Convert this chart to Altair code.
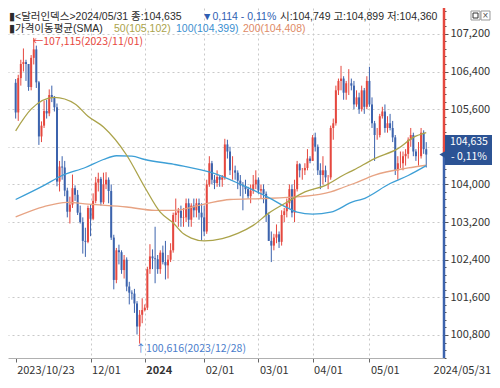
import altair as alt
import pandas as pd

# ---------------- data ----------------
dates = pd.bdate_range("2023-10-23", "2024-05-31").strftime("%Y/%m/%d").tolist()

opens = [
    106.16, 105.53, 106.26, 106.56, 106.60, 106.56, 106.07,
    106.69, 106.87, 106.17, 105.02, 105.25, 105.56, 105.51, 105.90, 105.86, 105.64, 104.06,
    104.38, 104.36, 103.87, 103.42, 103.57, 103.92, 103.78, 103.40, 103.20, 102.80, 102.78,
    103.50, 103.27, 103.65, 104.04, 104.12, 103.62, 104.00, 104.10, 103.86, 102.87, 101.97,
    102.60, 102.56, 102.18, 102.40, 101.83, 101.70, 101.68, 101.47, 100.98, 101.23,
    101.33, 101.38, 102.20, 102.47, 102.43, 102.41, 102.20, 102.55, 102.35, 102.28, 102.40,
    102.60, 103.35, 103.40, 103.44, 103.29, 103.30, 103.60, 103.25, 103.55, 103.45, 103.60, 103.40,
    103.30, 103.00, 104.00, 104.45, 104.10, 104.03, 104.16, 104.10, 104.15, 104.85, 104.70,
    104.30, 104.30, 104.25, 104.08, 103.98, 103.96, 103.90, 103.75, 103.87, 104.00,
    104.10, 103.87, 103.90, 103.80, 103.35, 102.80, 102.70, 102.87, 102.94, 102.78, 103.35,
    103.43, 103.60, 103.90, 103.40, 103.90, 104.43, 104.30, 104.30, 104.35, 104.55,
    104.50, 105.00, 104.80, 104.30, 104.20, 104.30, 104.15, 104.15, 105.20, 105.30, 106.00,
    106.20, 106.25, 105.95, 106.15, 106.15, 106.10, 105.70, 105.85, 105.60, 106.00, 105.65,
    106.20, 105.70, 105.30, 105.05, 105.05, 105.45, 105.55, 105.20, 105.30, 105.20, 105.00,
    104.30, 104.45, 104.45, 104.60, 104.65, 104.95, 105.05, 104.70, 104.60, 104.60, 105.10, 104.749,
]
highs = [
    106.24, 106.33, 106.65, 106.89, 106.65, 106.50, 106.75,
    107.115, 106.95, 106.20, 105.34, 105.78, 105.80, 106.02, 106.10, 105.88, 105.72, 104.50,
    104.60, 104.50, 103.93, 103.74, 104.21, 103.98, 103.88, 103.55, 103.30, 103.08, 103.55,
    103.58, 103.81, 104.16, 104.25, 104.16, 104.25, 104.26, 104.15, 104.00, 102.93, 102.65,
    102.72, 102.60, 102.50, 102.45, 101.93, 101.75, 101.78, 101.52, 101.33, 101.58,
    101.45, 102.25, 102.73, 102.62, 103.10, 102.50, 102.60, 102.70, 102.80, 102.50, 102.75,
    103.40, 103.70, 103.50, 103.55, 103.50, 103.70, 103.70, 103.60, 103.70, 103.70, 103.70, 103.60,
    103.55, 104.10, 104.60, 104.50, 104.20, 104.30, 104.20, 104.20, 104.97, 104.95, 104.80,
    104.60, 104.40, 104.30, 104.20, 104.05, 104.10, 103.95, 104.00, 104.20, 104.30,
    104.15, 104.00, 104.00, 103.85, 103.40, 103.00, 102.95, 103.15, 103.00, 103.45, 103.50,
    103.70, 104.00, 104.00, 104.10, 104.50, 104.45, 104.35, 104.45, 104.75, 104.60,
    105.05, 105.10, 104.85, 104.45, 104.60, 104.40, 104.20, 105.25, 105.40, 106.10, 106.25,
    106.52, 106.30, 106.20, 106.45, 106.25, 106.20, 106.00, 105.95, 106.10, 106.05, 106.30,
    106.50, 105.85, 105.35, 105.20, 105.50, 105.65, 105.70, 105.45, 105.50, 105.35, 105.05,
    104.60, 104.70, 104.70, 104.75, 105.00, 105.20, 105.10, 104.75, 104.90, 105.20, 105.15, 104.899,
]
lows = [
    105.40, 105.35, 106.10, 106.40, 106.20, 105.99, 106.00,
    106.55, 106.05, 104.84, 104.90, 105.20, 105.40, 105.45, 105.75, 105.55, 103.96, 103.85,
    104.10, 103.75, 103.30, 103.17, 103.50, 103.65, 103.35, 103.17, 102.53, 102.46, 102.75,
    102.90, 103.24, 103.60, 103.85, 103.55, 103.58, 103.90, 103.60, 102.82, 101.77, 101.90,
    102.30, 102.10, 102.00, 101.73, 101.45, 101.55, 101.27, 100.81, 100.616, 101.05,
    101.30, 101.33, 102.10, 102.20, 101.90, 102.10, 102.10, 102.30, 101.98, 102.00, 102.35,
    102.55, 103.20, 103.10, 103.10, 103.10, 103.20, 103.10, 103.10, 103.30, 103.30, 103.25, 102.80,
    102.90, 102.95, 103.95, 104.00, 103.90, 103.95, 103.95, 103.95, 104.10, 104.55, 104.20,
    104.10, 104.10, 103.90, 103.75, 103.45, 103.80, 103.70, 103.60, 103.80, 103.90,
    103.80, 103.70, 103.60, 103.20, 102.80, 102.35, 102.60, 102.75, 102.65, 102.70, 103.20,
    103.30, 103.50, 103.30, 103.20, 103.85, 104.15, 104.10, 104.20, 104.30, 104.45,
    104.50, 104.70, 104.20, 103.90, 104.00, 104.05, 103.90, 104.10, 104.95, 105.25, 105.90,
    106.00, 105.80, 105.80, 105.90, 106.00, 105.60, 105.65, 105.50, 105.55, 105.50, 105.60,
    105.65, 105.20, 104.50, 104.95, 105.00, 105.40, 105.10, 105.10, 105.15, 104.90, 104.20,
    104.10, 104.35, 104.30, 104.40, 104.55, 104.80, 104.60, 104.50, 104.40, 104.55, 104.65, 104.360,
]
closes = [
    105.53, 106.26, 106.56, 106.60, 106.56, 106.07, 106.69,
    106.87, 106.17, 105.02, 105.25, 105.56, 105.51, 105.90, 105.86, 105.64, 104.06, 104.38,
    104.36, 103.87, 103.42, 103.57, 103.92, 103.78, 103.40, 103.20, 102.80, 102.78, 103.50,
    103.27, 103.65, 104.04, 104.12, 103.62, 104.00, 104.10, 103.86, 102.87, 101.97, 102.60,
    102.56, 102.18, 102.40, 101.83, 101.70, 101.68, 101.47, 100.98, 101.23, 101.33,
    101.38, 102.20, 102.47, 102.43, 102.41, 102.20, 102.55, 102.35, 102.28, 102.40, 102.60,
    103.35, 103.40, 103.44, 103.29, 103.30, 103.60, 103.25, 103.55, 103.45, 103.60, 103.40, 103.30,
    103.00, 104.00, 104.45, 104.10, 104.03, 104.16, 104.10, 104.15, 104.85, 104.70, 104.30,
    104.30, 104.25, 104.08, 103.98, 103.96, 103.90, 103.75, 103.87, 104.00, 104.10,
    103.87, 103.90, 103.80, 103.35, 102.80, 102.70, 102.87, 102.94, 102.78, 103.35, 103.43,
    103.60, 103.90, 103.40, 103.90, 104.43, 104.30, 104.30, 104.35, 104.55, 104.50,
    105.00, 104.80, 104.30, 104.20, 104.30, 104.15, 104.15, 105.20, 105.30, 106.00, 106.20,
    106.25, 105.95, 106.15, 106.15, 106.10, 105.70, 105.85, 105.60, 106.00, 105.65, 106.20,
    105.70, 105.30, 105.05, 105.05, 105.45, 105.55, 105.20, 105.30, 105.20, 105.00, 104.30,
    104.45, 104.45, 104.60, 104.65, 104.95, 105.05, 104.70, 104.60, 104.60, 105.10, 104.75, 104.635,
]

sma50_idx = [0, 6, 15, 23, 28, 34, 43, 50, 56, 61, 65, 68, 73, 80, 86, 92, 98, 105, 112, 120, 127, 131, 139, 148, 154, 159]
sma50_val = [105.14, 105.60, 105.85, 105.71, 105.45, 105.22, 104.62, 103.94, 103.41, 103.18, 102.95, 102.86, 102.80,
             102.85, 102.96, 103.13, 103.39, 103.62, 103.84, 103.98, 104.20, 104.31, 104.55, 104.76, 105.00, 105.10]
sma100_idx = [0, 11, 18, 27, 34, 39, 45, 50, 61, 65, 76, 88, 98, 105, 109, 115, 122, 131, 134, 145, 152, 159]
sma100_val = [103.68, 103.98, 104.19, 104.36, 104.53, 104.61, 104.60, 104.53, 104.43, 104.39, 104.25, 103.98, 103.72,
              103.51, 103.41, 103.37, 103.41, 103.64, 103.68, 104.02, 104.19, 104.399]
sma200_idx = [0, 11, 20, 28, 43, 54, 61, 73, 83, 95, 110, 122, 127, 131, 139, 152, 159]
sma200_val = [103.31, 103.53, 103.62, 103.58, 103.52, 103.45, 103.45, 103.58, 103.68, 103.70, 103.74, 103.84, 103.94,
              104.02, 104.20, 104.35, 104.408]

y_major = [100.8, 101.6, 102.4, 103.2, 104.0, 104.8, 105.6, 106.4, 107.2]
x_label_months = ["10", "12", "01", "02", "03", "04", "05"]   # months labelled under the chart

# ---------------- styling ----------------
FONT = "Noto Sans CJK KR"
HFONT = "Liberation Sans, Noto Sans CJK KR"
RED, BLUE = "#e5483f", "#3c63ad"
C50, C100, C200 = "#aba34a", "#3d9fd6", "#e7a383"
DARK = "#2b2b2b"
W, H = 436, 350
XDOM = [-1.03, 163.94]
YDOM = [100.311, 107.75]
xs = alt.Scale(domain=XDOM, nice=False, zero=False)
ys = alt.Scale(domain=YDOM, nice=False, zero=False)

n = len(closes)
df = pd.DataFrame({"i": list(range(n)), "date": dates[:n], "o": opens, "h": highs, "l": lows, "c": closes})
df["dir"] = ["up" if c >= o else "down" for o, c in zip(opens, closes)]
color = alt.Color("dir:N", scale=alt.Scale(domain=["up", "down"], range=[RED, BLUE]), legend=None)

# x axis: first trading day of the labelled months
month_starts = [i for i in range(n)
                if (i == 0 or dates[i][5:7] != dates[i - 1][5:7]) and dates[i][5:7] in x_label_months]
def xlab(i):
    d = dates[i]
    if i == 0:
        return d
    if d[5:7] == "01":
        return d[:4]
    return d[5:]
xexpr = " : ".join(f"datum.value == {i} ? '{xlab(i)}'" for i in month_starts) + " : ''"
year_idx = [i for i in month_starts if i > 0 and dates[i][5:7] == "01"][0]

xaxis = alt.Axis(values=month_starts, labelExpr=xexpr, title=None, grid=True, gridDash=[2, 3],
                 gridColor="#c9c9c9",
                 gridOpacity={"condition": {"test": "datum.value == 0", "value": 0}, "value": 1},
                 tickSize=4, tickColor="#666", domainColor="#b0b0b0", labelAlign="left", labelOffset=1,
                 labelPadding=2, labelFont=FONT, labelFontSize=11, labelColor="#333", labelFlush=False,
                 labelOverlap=False,
                 labelFontWeight={"condition": {"test": f"datum.value == {year_idx}", "value": "bold"},
                                  "value": "normal"})

y_ticks = [round(y_major[0] - 0.48 + 0.16 * k, 2) for k in range(47)]
MAJ = "round(datum.value*100) % 80 == 0"
yaxis = alt.Axis(orient="right", values=y_ticks, title=None, domain=False,
                 labelExpr=f"{MAJ} && round(datum.value*100) != 10480 ? replace(format(datum.value, '.3f'), '.', ',') : ''",
                 tickSize={"condition": {"test": MAJ, "value": 4}, "value": 2},
                 tickColor="#555", grid=True, gridDash=[2, 3], gridColor="#c9c9c9",
                 gridOpacity={"condition": {"test": MAJ, "value": 1}, "value": 0},
                 labelPadding=2, labelFont=FONT, labelFontSize=11, labelColor="#333",
                 labelOverlap=False, labelFlush=False)

def X(field):
    return alt.X(field, type="quantitative", scale=xs, axis=xaxis)
def Y(field):
    return alt.Y(field, type="quantitative", scale=ys, axis=yaxis)

base = alt.Chart(df)
wicks = base.mark_rule(strokeWidth=1).encode(x=X("i"), y=Y("l"), y2="h:Q", color=color)
bodies = base.mark_bar(size=2).encode(x=X("i"), y=Y("o"), y2="c:Q", color=color)

def sma_line(idx, val, col):
    d = pd.DataFrame({"i": idx, "v": val})
    return alt.Chart(d).mark_line(color=col, strokeWidth=1.3, interpolate="monotone").encode(
        x=X("i"), y=Y("v"))

l200 = sma_line(sma200_idx, sma200_val, C200)
l100 = sma_line(sma100_idx, sma100_val, C100)
l50 = sma_line(sma50_idx, sma50_val, C50)

# max / min annotations from the data
imax = max(range(n), key=lambda k: highs[k])
imin = min(range(n), key=lambda k: lows[k])
def fmt(v):
    return f"{v:.3f}".replace(".", ",")
ann_df = pd.DataFrame({"i": [imax, imin], "v": [highs[imax], lows[imin]],
                       "t": [f"←{fmt(highs[imax])}({dates[imax]})", f"↑{fmt(lows[imin])}({dates[imin]})"]})
ann_max = alt.Chart(ann_df.iloc[[0]]).mark_text(align="left", baseline="middle", dx=-1, dy=4, font=FONT,
                                                fontSize=10.5, color="#e8473d").encode(
    x=X("i"), y=Y("v"), text="t:N")
ann_min = alt.Chart(ann_df.iloc[[1]]).mark_text(align="left", baseline="top", dx=-4, dy=0, font=FONT,
                                                fontSize=10.5, color="#4a7dcc").encode(
    x=X("i"), y=Y("v"), text="t:N")

# right axis line: red above the last close, blue below
last = closes[-1]
axdf = pd.DataFrame({"lo": [last, YDOM[0]], "hi": [YDOM[1], last], "k": ["a", "b"]})
axline = alt.Chart(axdf).mark_rule(strokeWidth=2.5).encode(
    x=alt.value(W), y=Y("lo"), y2="hi:Q",
    color=alt.Color("k:N", scale=alt.Scale(domain=["a", "b"], range=["#e0302a", "#35589e"]), legend=None))

one = pd.DataFrame({"k": [0]})
TAG = "#2c5394"
tag_rect = alt.Chart(one).mark_rect(color=TAG).encode(
    x=alt.value(W + 1), x2=alt.value(484), y=alt.value(127), y2=alt.value(157))
lastdf = pd.DataFrame({"v": [last]})
tag_ptr = alt.Chart(lastdf).mark_point(shape="triangle-left", filled=True, size=70, color=TAG, opacity=1).encode(
    x=alt.value(W - 1), y=Y("v"))

def txt(s, x, y, col, size=10.5, align="left", baseline="middle", weight="normal", font=HFONT):
    return alt.Chart(one).mark_text(text=s, align=align, baseline=baseline, color=col, fontSize=size,
                                    font=font, fontWeight=weight).encode(x=alt.value(x), y=alt.value(y))

texts = [
    txt(fmt(last), 461, 134, "white", size=10.5, align="center", font=FONT),
    txt("- 0,11%", 461, 149, "white", size=10.5, align="center", font=FONT),
    txt("▮<달러인덱스>2024/05/31 종:104,635", 1, 8.5, DARK),
    txt("▼0,114 - 0,11%", 194, 8.5, "#2f5fb3"),
    txt("시:104,749 고:104,899 저:104,360", 272, 8.5, DARK),
    txt("▮가격이동평균(SMA)", 1, 21, DARK),
    txt("50(105,102)", 106, 21, C50),
    txt("100(104,399)", 168, 21, "#3a8fd0"),
    txt("200(104,408)", 235, 21, "#e08a66"),
    txt(dates[-1], 483, H + 13, "#333", size=11, align="right", font=FONT),
]

icons = [
    alt.Chart(one).mark_rect(fill="white", stroke="#999", strokeWidth=1).encode(
        x=alt.value(463), x2=alt.value(472), y=alt.value(3), y2=alt.value(12)),
    alt.Chart(one).mark_rect(fill="white", stroke="#333", strokeWidth=1).encode(
        x=alt.value(465), x2=alt.value(470), y=alt.value(5), y2=alt.value(10)),
    alt.Chart(one).mark_rect(fill="white", stroke="#999", strokeWidth=1).encode(
        x=alt.value(473), x2=alt.value(482), y=alt.value(3), y2=alt.value(12)),
    txt("×", 477.5, 7.5, "#555", size=10, align="center"),
]

chart = alt.layer(
    wicks, bodies, l200, l100, l50, ann_max, ann_min, axline, tag_rect, tag_ptr, *texts, *icons
).properties(
    width=W, height=H,
    padding={"left": 0, "top": 0, "right": 48, "bottom": 22},
    autosize=alt.AutoSizeParams(type="none"),
    background="white",
).configure_view(stroke=None)

chart.save("out.html", embed_options={"renderer": "svg", "actions": False})
